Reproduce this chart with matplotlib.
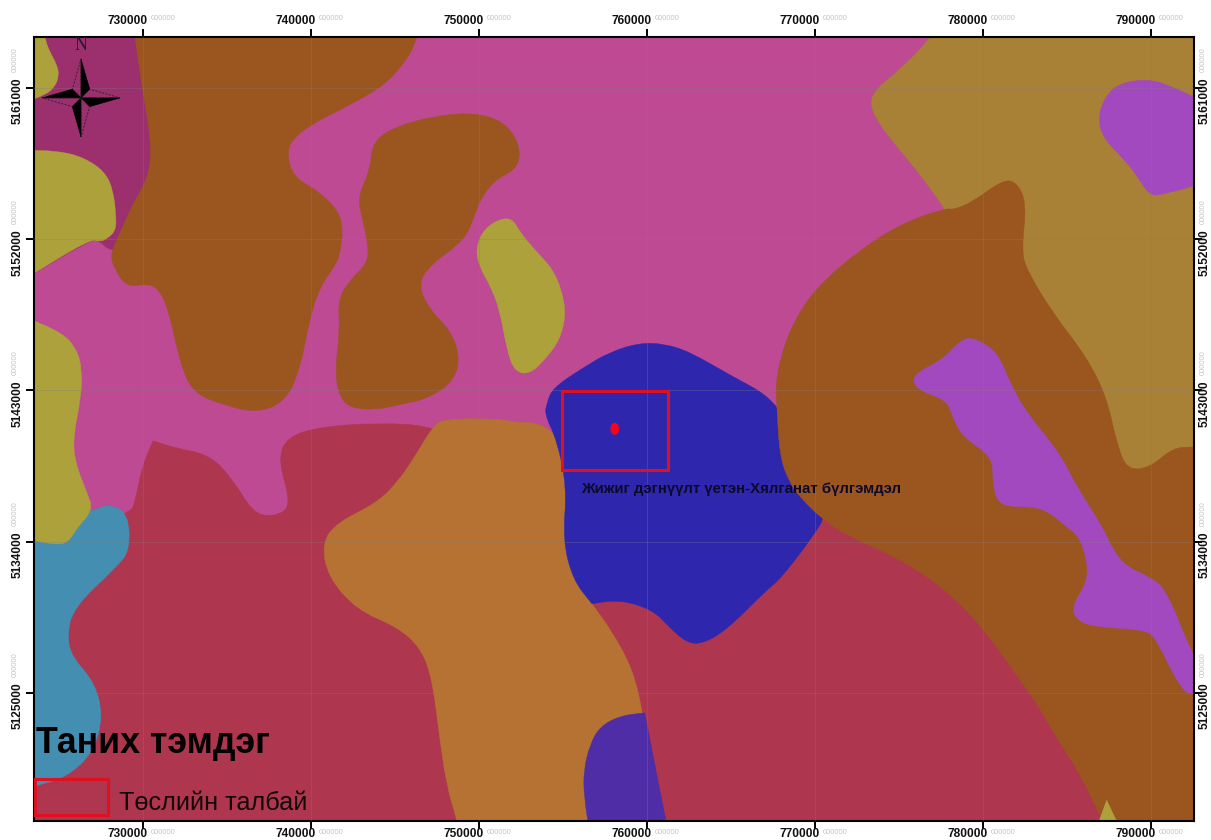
import matplotlib
matplotlib.use('Agg')
import matplotlib.pyplot as plt
from matplotlib.path import Path
from matplotlib.patches import PathPatch, Polygon, Rectangle, Ellipse

plt.rcParams['font.family'] = ['Liberation Sans', 'DejaVu Sans']

# outlines are (easting km, northing km)
magenta_zone = [(731.01, 5164.75), (731.61, 5157.31), (731.01, 5153.74), (728.93, 5151.36), (727.92, 5151.36),
                (727.44, 5151.90), (726.85, 5151.96), (722.68, 5149.46), (722.68, 5164.75)]
brown_top = [(729.41, 5164.75), (746.48, 5164.75), (746.18, 5163.56), (745.59, 5162.55), (744.40, 5161.18),
             (742.32, 5159.99), (739.94, 5158.80), (738.87, 5157.91), (738.57, 5157.13), (738.93, 5155.70),
             (740.53, 5154.81), (741.72, 5153.56), (741.90, 5152.37), (741.72, 5151.18), (741.54, 5150.59),
             (740.53, 5149.16), (739.94, 5147.37), (739.34, 5144.22), (738.45, 5142.32), (736.78, 5141.66),
             (734.76, 5142.14), (732.98, 5142.85), (732.20, 5144.64), (731.49, 5147.97), (730.83, 5149.16),
             (730.12, 5149.34), (729.05, 5149.16), (728.33, 5150.17), (728.04, 5151.06), (728.63, 5152.37),
             (729.41, 5154.16), (729.82, 5154.75), (730.42, 5156.12), (730.48, 5157.91), (730.00, 5160.70),
             (729.52, 5164.03)]
brown_mid = [(745.29, 5158.80), (743.69, 5157.91), (743.51, 5156.12), (742.79, 5154.51), (743.03, 5153.32),
             (743.39, 5151.78), (743.39, 5150.59), (742.32, 5149.58), (741.60, 5148.39), (741.72, 5146.60),
             (741.42, 5144.04), (741.72, 5142.61), (742.32, 5141.96), (743.80, 5141.84), (745.29, 5142.14),
             (747.08, 5142.56), (748.56, 5143.63), (748.86, 5145.11), (748.27, 5146.60), (747.08, 5147.79),
             (746.36, 5149.28), (747.08, 5150.47), (749.16, 5151.96), (749.75, 5153.44), (750.05, 5154.34),
             (750.94, 5155.53), (752.13, 5156.12), (752.49, 5157.01), (752.13, 5158.20), (751.24, 5159.10),
             (749.75, 5159.51), (747.67, 5159.39)]
olive_center = [(749.81, 5151.36), (750.17, 5152.43), (751.06, 5153.15), (751.96, 5153.27), (752.43, 5152.43),
                (753.32, 5151.36), (754.34, 5150.29), (754.93, 5148.98), (755.17, 5147.49), (754.81, 5146.01),
                (753.92, 5144.82), (753.03, 5143.98), (752.13, 5144.10), (751.66, 5145.41), (751.24, 5147.79),
                (750.65, 5149.28), (750.05, 5150.29)]
khaki_zone = [(777.12, 5164.75), (776.95, 5164.03), (775.04, 5162.07), (773.55, 5160.88), (773.26, 5159.99),
              (773.85, 5158.80), (775.04, 5157.31), (776.05, 5156.12), (778.02, 5153.44), (780.99, 5148.39),
              (786.94, 5137.68), (793.49, 5137.68), (793.49, 5164.75)]
purple_top = [(793.19, 5160.17), (791.29, 5161.06), (789.92, 5161.54), (788.13, 5161.30), (787.24, 5160.46),
              (786.82, 5159.10), (787.24, 5157.91), (788.43, 5156.72), (789.14, 5155.82), (789.92, 5154.57),
              (790.81, 5154.69), (793.19, 5155.35)]
red_zone = [(730.60, 5140.00), (730.60, 5140.00), (731.90, 5139.58), (733.99, 5139.16), (735.36, 5137.68),
            (736.55, 5135.71), (737.74, 5135.47), (738.87, 5136.07), (738.03, 5138.87), (738.57, 5140.23),
            (740.53, 5140.83), (743.92, 5141.07), (747.49, 5140.89), (754.81, 5137.68), (770.88, 5136.49),
            (780.99, 5129.35), (788.13, 5116.55), (722.68, 5116.55), (722.68, 5132.92), (729.23, 5135.71),
            (729.52, 5136.31), (729.94, 5138.45)]
orange_zone = [(747.85, 5141.31), (751.24, 5141.31), (752.25, 5141.07), (753.80, 5141.07), (755.41, 5139.46),
               (757.19, 5136.49), (756.72, 5130.30), (756.72, 5130.30), (757.97, 5128.57), (759.16, 5126.37),
               (759.75, 5123.81), (760.17, 5121.02), (760.46, 5116.55), (748.86, 5116.55), (748.68, 5117.45),
               (748.09, 5119.41), (747.67, 5122.21), (747.20, 5125.95), (746.48, 5127.74), (745.11, 5128.93),
               (742.73, 5129.94), (741.01, 5131.90), (740.65, 5133.93), (741.54, 5135.12), (743.92, 5136.31),
               (745.11, 5137.50), (746.07, 5138.87), (747.20, 5140.77)]
blue_zone = [(753.92, 5141.54), (754.04, 5142.26), (754.40, 5143.15), (756.18, 5144.34), (757.79, 5145.29),
             (759.57, 5145.83), (761.06, 5145.77), (762.55, 5145.29), (764.93, 5143.92), (767.66, 5142.44),
             (769.09, 5139.46), (770.76, 5135.77), (769.87, 5134.28), (767.90, 5131.73), (767.13, 5131.13),
             (764.75, 5128.75), (763.32, 5127.92), (762.37, 5127.98), (761.36, 5128.87), (760.35, 5129.94),
             (758.38, 5130.54), (756.72, 5130.30), (756.72, 5130.30), (755.59, 5131.73), (754.99, 5134.11),
             (755.23, 5137.26), (754.63, 5140.06)]
violet_zone = [(759.87, 5123.81), (759.87, 5123.81), (758.38, 5123.63), (757.19, 5122.98), (756.60, 5121.91),
               (756.24, 5120.42), (756.24, 5118.93), (756.60, 5116.55), (761.30, 5116.55), (760.58, 5120.12)]
brown_right = [(767.66, 5143.21), (767.90, 5144.82), (768.68, 5147.02), (770.10, 5149.16), (772.66, 5151.36),
               (775.22, 5152.97), (777.84, 5153.86), (778.20, 5153.74), (779.39, 5154.22), (781.17, 5155.53),
               (782.00, 5155.41), (782.60, 5154.16), (782.30, 5151.36), (782.60, 5150.17), (784.15, 5147.61),
               (786.17, 5144.99), (787.36, 5142.61), (788.01, 5139.64), (788.61, 5138.27), (789.92, 5138.39),
               (791.29, 5139.58), (792.48, 5139.64), (793.49, 5139.64), (793.49, 5116.55), (787.54, 5116.55),
               (786.94, 5117.74), (785.75, 5120.24), (784.56, 5122.03), (783.19, 5124.41), (781.77, 5126.37),
               (780.22, 5128.57), (778.43, 5130.54), (776.41, 5132.14), (774.27, 5133.33), (772.07, 5134.28),
               (770.46, 5135.30), (769.09, 5136.66), (768.50, 5137.50), (767.90, 5139.04), (767.72, 5142.26)]
purple_right = [(775.76, 5143.92), (777.60, 5144.82), (778.61, 5145.95), (779.39, 5146.18), (780.87, 5145.29),
                (781.59, 5143.45), (782.60, 5141.66), (784.56, 5139.28), (785.57, 5137.26), (787.12, 5134.88),
                (787.72, 5133.51), (788.55, 5132.50), (789.92, 5131.90), (790.93, 5131.13), (792.48, 5127.14),
                (793.49, 5126.07), (792.48, 5124.76), (791.70, 5125.36), (790.33, 5128.16), (789.74, 5128.75),
                (786.53, 5128.93), (785.57, 5129.35), (785.28, 5130.12), (786.17, 5131.55), (786.23, 5132.74),
                (785.75, 5134.28), (784.98, 5134.88), (783.55, 5136.07), (781.41, 5136.07), (780.81, 5136.49),
                (780.58, 5137.50), (780.58, 5139.04), (778.79, 5140.23), (778.20, 5141.42), (777.84, 5142.44),
                (776.05, 5143.03)]
teal_zone = [(722.68, 5135.30), (726.97, 5135.77), (727.92, 5136.25), (729.11, 5135.71), (729.23, 5133.51),
             (728.45, 5132.50), (725.84, 5130.06), (725.48, 5128.33), (725.78, 5127.14), (727.14, 5125.60),
             (727.62, 5123.57), (727.03, 5121.43), (725.48, 5120.00), (723.87, 5119.53), (722.68, 5119.23)]
olive_left = [(722.68, 5147.49), (725.24, 5146.42), (726.07, 5145.41), (726.37, 5144.22), (726.31, 5142.61),
              (725.84, 5140.23), (725.96, 5138.69), (726.67, 5136.90), (727.03, 5135.89), (726.07, 5134.82),
              (725.54, 5133.93), (724.76, 5133.81), (722.68, 5134.22)]
olive_top = [(722.68, 5164.75), (724.11, 5164.75), (724.17, 5163.86), (724.46, 5163.14), (724.88, 5162.37),
             (725.00, 5161.77), (724.76, 5161.06), (724.17, 5160.58), (722.68, 5160.05)]
olive_mid = [(722.68, 5157.31), (725.06, 5157.25), (726.55, 5156.83), (727.74, 5156.00), (728.22, 5154.93),
             (728.39, 5153.44), (728.39, 5152.55), (727.92, 5152.07), (727.44, 5151.84), (726.85, 5152.02),
             (722.68, 5149.46)]
olive_corner = [(787.36, 5118.64), (786.82, 5117.15), (788.07, 5117.15)]

# bottom to top, the way the layers overlap
zones = [
    (magenta_zone, '#9C2F6E'), (brown_top, '#9B5620'), (brown_mid, '#9B5620'), (olive_center, '#ADA13B'),
    (khaki_zone, '#A88036'), (purple_top, '#A349BF'), (red_zone, '#AF364F'), (orange_zone, '#B57232'),
    (blue_zone, '#2E27AE'), (violet_zone, '#4F2DA6'), (brown_right, '#9B5620'), (purple_right, '#A349BF'),
    (teal_zone, '#438EB1'), (olive_left, '#ADA13B'), (olive_top, '#ADA13B'), (olive_mid, '#ADA13B'),
]

x_ticks = [730000, 740000, 750000, 760000, 770000, 780000, 790000]
y_ticks = [5125000, 5134000, 5143000, 5152000, 5161000]
tick_suffix = '000000'

project_area = (754.93, 5138.27, 6.31, 4.70)
project_point = (758.08, 5140.71)
legend_box = (723.57, 5117.74, 4.35, 2.15)
compass_center = (726.31, 5160.41)

legend_title = 'Таних тэмдэг'
legend_label = 'Төслийн талбай'
unit_label = 'Жижиг дэгнүүлт үетэн-Хялганат бүлгэмдэл'


def offMap(x, y):
    return x < 723.5 or x > 792.6 or y > 5164.04 or y < 5117.37


def smoothPatch(points, color):
    # closed outline, rounded with quadratic segments through the midpoints
    # points off the map are doubled so their corners stay square under the frame
    pts = []
    for x, y in points:
        pts.append((x * 1000, y * 1000))
        if offMap(x, y):
            pts.append((x * 1000, y * 1000))
    mids = [((pts[i][0] + pts[(i + 1) % len(pts)][0]) / 2, (pts[i][1] + pts[(i + 1) % len(pts)][1]) / 2)
            for i in range(len(pts))]
    verts = [mids[-1]]
    codes = [Path.MOVETO]
    for i in range(len(pts)):
        verts += [pts[i], mids[i]]
        codes += [Path.CURVE3, Path.CURVE3]
    return PathPatch(Path(verts, codes), facecolor=color, edgecolor=color, linewidth=0.3, zorder=1)


def tickText(ax, main, xy, coords, main_off, sup_off, rotation):
    ax.annotate(main, xy=xy, xycoords=coords, xytext=main_off, textcoords='offset pixels', ha='center',
                va='center', rotation=rotation, fontsize=8.6, fontweight='bold', color='#111111',
                annotation_clip=False)
    ax.annotate(tick_suffix, xy=xy, xycoords=coords, xytext=sup_off, textcoords='offset pixels', ha='center',
                va='center', rotation=rotation, fontsize=5.4, color='#C4C4C4', annotation_clip=False)


def drawCompass(ax):
    cx, cy = compass_center
    arm = 2320
    inner = 520
    cx *= 1000
    cy *= 1000
    arms = [((0, 1), (1, 0)), ((1, 0), (0, -1)), ((0, -1), (-1, 0)), ((-1, 0), (0, 1))]
    for (ax1, ay1), (ax2, ay2) in arms:
        tip = (cx + ax1 * arm, cy + ay1 * arm)
        mid = (cx + (ax1 + ax2) * inner, cy + (ay1 + ay2) * inner)
        other = (cx + (ax1 - ax2) * inner, cy + (ay1 - ay2) * inner)
        ax.add_patch(Polygon([(cx, cy), tip, mid], closed=True, facecolor='black', edgecolor='black',
                             linewidth=0.4, zorder=5))
        ax.add_patch(Polygon([(cx, cy), tip, other], closed=True, fill=False, edgecolor='#1a1a1a',
                             linewidth=0.5, linestyle=(0, (3, 2)), zorder=5))
    ax.text(cx, cy + 3100, 'N', ha='center', va='center', fontsize=13, family='Liberation Serif',
            color='#1c1c2c', zorder=5)


def main():
    fig = plt.figure(figsize=(12.11, 8.40), dpi=100, facecolor='white')
    ax = fig.add_axes([34 / 1211, 1 - 821 / 840, 1160 / 1211, 784 / 840])
    ax.set_facecolor('#BD4A92')
    ax.set_xlim(723512, 792560)
    ax.set_ylim(5117369, 5164036)

    for outline, color in zones:
        ax.add_patch(smoothPatch(outline, color))
    ax.add_patch(Polygon([(x * 1000, y * 1000) for x, y in olive_corner], closed=True,
                         facecolor='#ADA13B', edgecolor='none', zorder=1))

    ax.set_xticks(x_ticks)
    ax.set_yticks(y_ticks)
    ax.set_xticklabels([])
    ax.set_yticklabels([])
    ax.tick_params(direction='out', length=5.8, width=1.4, top=True, right=True, bottom=True, left=True)
    ax.grid(True, color='#808080', alpha=0.3, linewidth=0.7, zorder=2)
    ax.set_axisbelow(False)
    for spine in ax.spines.values():
        spine.set_linewidth(1.5)

    for tick in x_ticks:
        tickText(ax, str(tick), (tick, 1), ('data', 'axes fraction'), (-15, 16), (20, 19), 0)
        tickText(ax, str(tick), (tick, 0), ('data', 'axes fraction'), (-15, -13), (20, -11), 0)
    for tick in y_ticks:
        tickText(ax, str(tick), (0, tick), ('axes fraction', 'data'), (-16, -13), (-19, 28), 90)
        tickText(ax, str(tick), (1, tick), ('axes fraction', 'data'), (11, -13), (9, 28), 90)

    x0, y0, w, h = project_area
    ax.add_patch(Rectangle((x0 * 1000, y0 * 1000), w * 1000, h * 1000, fill=False, edgecolor='#E0101E',
                           linewidth=2.2, zorder=4))
    ax.add_patch(Ellipse((project_point[0] * 1000, project_point[1] * 1000), 520, 720, facecolor='#F5051A',
                         edgecolor='none', zorder=4))
    x0, y0, w, h = legend_box
    ax.add_patch(Rectangle((x0 * 1000, y0 * 1000), w * 1000, h * 1000, fill=False, edgecolor='#E0101E',
                           linewidth=2.2, zorder=4))

    ax.text(723630, 5121430, legend_title, fontsize=25.7, fontweight='bold', color='black', zorder=6)
    ax.text(728600, 5118030, legend_label, fontsize=18.2, color='#140808', zorder=6)
    ax.text(756080, 5136900, unit_label, fontsize=10.8, fontweight='bold', color='#0c0a28', zorder=6)

    drawCompass(ax)
    fig.savefig('out.png', dpi=100)


main()
